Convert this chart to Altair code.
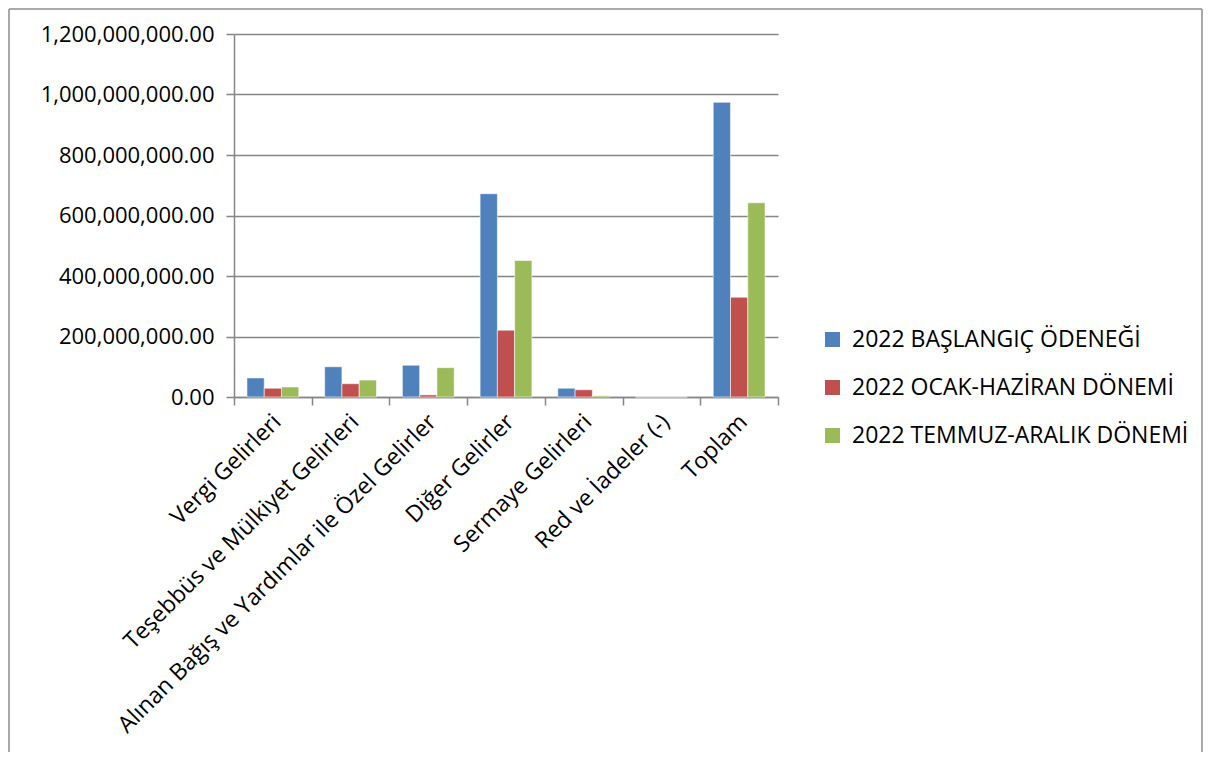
import altair as alt
import pandas as pd

categories = [
    "Vergi Gelirleri",
    "Teşebbüs ve Mülkiyet Gelirleri",
    "Alınan Bağış ve Yardımlar ile Özel Gelirler",
    "Diğer Gelirler",
    "Sermaye Gelirleri",
    "Red ve İadeler (-)",
    "Toplam",
]
series = ["2022 BAŞLANGIÇ ÖDENEĞİ", "2022 OCAK-HAZİRAN DÖNEMİ", "2022 TEMMUZ-ARALIK DÖNEMİ"]
baslangic = [63e6, 100e6, 105e6, 672e6, 29e6, 0, 974e6]
ocak_haziran = [29e6, 44e6, 7e6, 221e6, 24e6, 0, 330e6]
temmuz_aralik = [33e6, 56e6, 97e6, 451e6, 4e6, 0, 642e6]
colors = ["#4F81BD", "#C0504D", "#9BBB59"]
y_ticks = [0, 200e6, 400e6, 600e6, 800e6, 1000e6, 1200e6]

rows = []
for s, vals in zip(series, [baslangic, ocak_haziran, temmuz_aralik]):
    for c, v in zip(categories, vals):
        rows.append({"Kategori": c, "Seri": s, "Deger": v})
df = pd.DataFrame(rows)

FONT = "Open Sans"
GRAY = "#868686"

bars = alt.Chart(df).mark_bar(stroke="white", strokeWidth=0.8, strokeOpacity=0.7).encode(
    x=alt.X(
        "Kategori:N",
        sort=categories,
        scale=alt.Scale(paddingInner=0, paddingOuter=0),
        axis=alt.Axis(
            title=None,
            labelAngle=-45,
            labelAlign="right",
            labelBaseline="middle",
            labelFontSize=23,
            labelFont=FONT,
            labelColor="#000000",
            labelLimit=700,
            labelPadding=13,
            labelOffset=4,
            tickBand="extent",
            tickSize=8,
            tickColor=GRAY,
            tickWidth=1.5,
            domainColor=GRAY,
            domainWidth=1.5,
            grid=False,
        ),
    ),
    xOffset=alt.XOffset(
        "Seri:N",
        sort=series,
        scale=alt.Scale(paddingOuter=0.75, paddingInner=0),
    ),
    y=alt.Y(
        "Deger:Q",
        scale=alt.Scale(domain=[0, 1.2e9], nice=False),
        axis=alt.Axis(
            title=None,
            values=y_ticks,
            format=",.2f",
            labelFontSize=22,
            labelFont=FONT,
            labelColor="#000000",
            labelPadding=12,
            tickSize=8,
            tickColor=GRAY,
            tickWidth=1.5,
            domainColor=GRAY,
            domainWidth=1.5,
            grid=True,
            gridColor=GRAY,
            gridWidth=1.5,
        ),
    ),
    color=alt.Color(
        "Seri:N",
        sort=series,
        scale=alt.Scale(domain=series, range=colors),
        legend=alt.Legend(
            title=None,
            orient="none",
            legendX=587,
            legendY=294,
            symbolType="square",
            symbolSize=225,
            symbolStrokeWidth=0,
            labelFontSize=23,
            labelFont=FONT,
            labelColor="#000000",
            labelLimit=700,
            labelOffset=8,
            rowPadding=24,
        ),
    ),
)

frame = pd.DataFrame({"k": [0]})
top_rule = alt.Chart(frame).mark_rule(color="#8C8C8C", strokeWidth=1.5).encode(
    x=alt.value(-225), x2=alt.value(968), y=alt.value(-25)
)
left_rule = alt.Chart(frame).mark_rule(color="#8C8C8C", strokeWidth=1.5).encode(
    x=alt.value(-225), y=alt.value(-25), y2=alt.value(718)
)
right_rule = alt.Chart(frame).mark_rule(color="#8C8C8C", strokeWidth=1.5).encode(
    x=alt.value(968), y=alt.value(-25), y2=alt.value(718)
)

chart = (
    alt.layer(bars, top_rule, left_rule, right_rule)
    .properties(width=544, height=363, padding=0, background="white")
    .configure_view(stroke=None)
)

chart.save("out.html", embed_options={"renderer": "svg", "actions": False})
